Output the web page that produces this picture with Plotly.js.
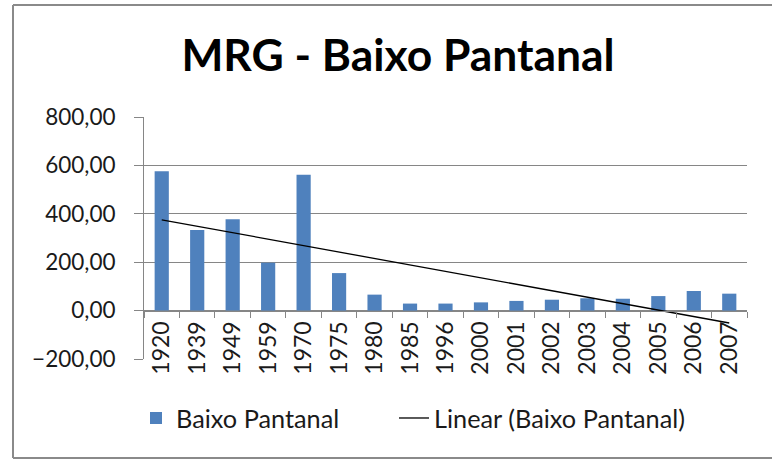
<!DOCTYPE html>
<html>
<head>
<meta charset="utf-8">
<script src="https://cdn.plot.ly/plotly-3.0.1.min.js"></script>
<style>
html, body { margin: 0; padding: 0; background: #ffffff; }
#chart { width: 772px; height: 459px; }
</style>
</head>
<body>
<div id="chart"></div>
<script>
var years = ["1920","1939","1949","1959","1970","1975","1980","1985","1996","2000","2001","2002","2003","2004","2005","2006","2007"];
var baixoPantanal = [576, 333, 377, 198, 561, 155, 66, 29, 29, 34, 40, 45, 51, 49, 60, 81, 70];
var seriesName = "Baixo Pantanal";
var trendName = "Linear (Baixo Pantanal)";
var yTicks = [-200, 0, 200, 400, 600, 800];

// Linear trendline (least squares over category index 1..n), as Excel computes it
var n = baixoPantanal.length;
var sx = 0, sy = 0, sxx = 0, sxy = 0;
for (var i = 0; i < n; i++) {
  var xi = i + 1;
  sx += xi; sy += baixoPantanal[i]; sxx += xi * xi; sxy += xi * baixoPantanal[i];
}
var slope = (n * sxy - sx * sy) / (n * sxx - sx * sx);
var intercept = (sy - slope * sx) / n;
var trendValues = [];
for (var j = 0; j < n; j++) trendValues.push(intercept + slope * (j + 1));

var FONT = "Lato, 'Open Sans', sans-serif";
var txt = "#1a1a1a";

var data = [
  {
    type: "bar",
    name: seriesName,
    x: years,
    y: baixoPantanal,
    marker: { color: "#4F81BD", line: { width: 0 } },
    legend: "legend",
    hoverinfo: "x+y"
  },
  {
    type: "scatter",
    mode: "lines",
    name: trendName,
    x: years,
    y: trendValues,
    line: { color: "#000000", width: 1.3 },
    legend: "legend2",
    hoverinfo: "skip"
  }
];

var legendCommon = {
  orientation: "h",
  xanchor: "left", xref: "paper",
  y: -0.244, yanchor: "middle",
  font: { family: FONT, size: 25.3, color: txt },
  itemwidth: 30,
  bgcolor: "rgba(0,0,0,0)"
};

var layout = {
  width: 772,
  height: 459,
  margin: { l: 144, r: 25, t: 117, b: 100, pad: 0 },
  paper_bgcolor: "#ffffff",
  plot_bgcolor: "#ffffff",
  separators: ",.",
  font: { family: FONT, size: 23, color: txt },
  title: {
    text: "MRG - Baixo Pantanal",
    font: { family: FONT, size: 44.4, color: "#000000", weight: "bold" },
    xref: "container", x: 398 / 772, xanchor: "center",
    yref: "container", y: 1 - 55 / 459, yanchor: "middle"
  },
  bargap: 0.6,
  showlegend: true,
  legend: Object.assign({}, legendCommon, { x: (136 - 144) / 603 }),
  legend2: Object.assign({}, legendCommon, { x: (394 - 144) / 603 }),
  xaxis: {
    type: "category",
    anchor: "free",
    position: 0.198,
    tickangle: -90,
    showline: true,
    linecolor: "#868686",
    linewidth: 1,
    ticks: "outside",
    tickson: "boundaries",
    ticklen: 6,
    tickcolor: "#868686",
    showgrid: false,
    zeroline: false,
    tickfont: { family: FONT, size: 23, color: txt },
    fixedrange: true
  },
  yaxis: {
    range: [-200, 800],
    tickvals: yTicks,
    tickformat: ".2f",
    showgrid: true,
    gridcolor: "#868686",
    gridwidth: 1,
    zeroline: false,
    showline: true,
    linecolor: "#868686",
    linewidth: 1,
    ticks: "outside",
    ticklen: 9,
    tickcolor: "#868686",
    ticklabelstandoff: 14,
    tickfont: { family: FONT, size: 22.5, color: txt },
    fixedrange: true
  },
  shapes: [
    { type: "line", xref: "paper", yref: "paper",
      x0: (13 - 144) / 603, x1: (775 - 144) / 603, y0: (359 - 5) / 242, y1: (359 - 5) / 242,
      line: { color: "#8a8a8a", width: 2 } },
    { type: "line", xref: "paper", yref: "paper",
      x0: (13 - 144) / 603, x1: (13 - 144) / 603, y0: (359 - 5) / 242, y1: (359 - 458) / 242,
      line: { color: "#8a8a8a", width: 2 } },
    { type: "line", xref: "paper", yref: "paper",
      x0: (13 - 144) / 603, x1: (775 - 144) / 603, y0: (359 - 458) / 242, y1: (359 - 458) / 242,
      line: { color: "#8a8a8a", width: 2 } }
  ]
};

Plotly.newPlot("chart", data, layout, { displayModeBar: false, staticPlot: true });
</script>
</body>
</html>
